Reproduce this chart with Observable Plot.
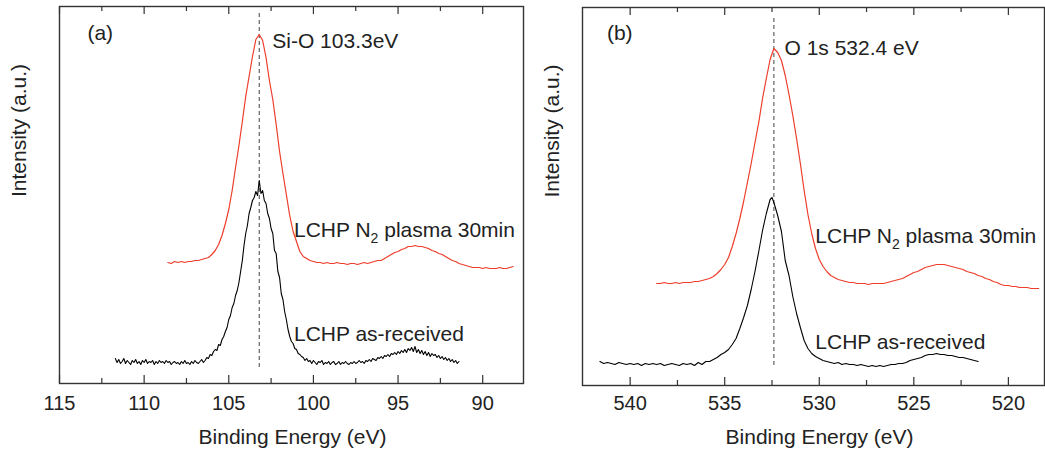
<!DOCTYPE html>
<html>
<head>
<meta charset="utf-8">
<script src="https://cdn.jsdelivr.net/npm/d3@7"></script>
<script src="https://cdn.jsdelivr.net/npm/@observablehq/plot@0.6"></script>
<style>
  html, body { margin: 0; padding: 0; background: #fff; }
  #wrap { position: relative; width: 1045px; height: 453px; overflow: hidden; }
  #wrap svg { position: absolute; top: 0; }
</style>
</head>
<body>
<div id="wrap"></div>
<script>
// ---------- Panel (a): Si 2p region, [binding energy eV, intensity a.u.] ----------
const aAsReceived = [[111.7,25],[111.6,21],[111.5,24],[111.4,20],[111.3,22],[111.2,25],[111.1,20],[111.0,23],[110.9,21],[110.8,19],[110.7,23],[110.6,21],[110.5,24],[110.4,20],[110.3,22],[110.2,19],[110.1,23],[110.0,21],[109.9,24],[109.8,20],[109.7,22],[109.6,21],[109.5,23],[109.4,19],[109.3,22],[109.2,20],[109.1,23],[109.0,21],[108.9,22],[108.8,20],[108.7,23],[108.6,21],[108.5,22],[108.4,19],[108.3,21],[108.2,22],[108.1,20],[108.0,21],[107.9,19],[107.8,22],[107.7,20],[107.6,23],[107.5,20],[107.4,21],[107.3,19],[107.2,22],[107.1,20],[107.0,23],[106.9,21],[106.8,20],[106.7,22],[106.6,24],[106.5,21],[106.4,23],[106.3,26],[106.2,25],[106.1,29],[106.0,28],[105.9,32],[105.8,34],[105.7,33],[105.6,39],[105.5,38],[105.4,44],[105.3,47],[105.2,52],[105.1,56],[105.0,64],[104.9,68],[104.8,76],[104.7,80],[104.6,88],[104.5,93],[104.4,101],[104.3,112],[104.2,123],[104.1,138],[104.0,150],[103.9,158],[103.8,170],[103.7,176],[103.6,183],[103.5,186],[103.4,192],[103.3,188],[103.2,203],[103.1,190],[103.0,193],[102.9,183],[102.8,180],[102.7,170],[102.6,165],[102.5,155],[102.4,150],[102.3,133],[102.2,130],[102.1,112],[102.0,106],[101.9,90],[101.8,84],[101.7,72],[101.6,64],[101.5,54],[101.4,47],[101.3,42],[101.2,40],[101.1,35],[101.0,34],[100.9,30],[100.8,29],[100.7,27],[100.6,26],[100.5,23],[100.4,25],[100.3,22],[100.2,23],[100.1,20],[100.0,23],[99.9,21],[99.8,19],[99.7,22],[99.6,21],[99.5,23],[99.4,19],[99.3,21],[99.2,20],[99.1,22],[99.0,19],[98.9,21],[98.8,22],[98.7,19],[98.6,20],[98.5,22],[98.4,19],[98.3,21],[98.2,20],[98.1,22],[98.0,20],[97.9,19],[97.8,21],[97.7,20],[97.6,22],[97.5,20],[97.4,21],[97.3,23],[97.2,21],[97.1,22],[97.0,20],[96.9,23],[96.8,22],[96.7,24],[96.6,22],[96.5,25],[96.4,24],[96.3,23],[96.2,26],[96.1,25],[96.0,27],[95.9,25],[95.8,28],[95.7,27],[95.6,29],[95.5,27],[95.4,30],[95.3,29],[95.2,31],[95.1,29],[95.0,32],[94.9,30],[94.8,33],[94.7,31],[94.6,34],[94.5,31],[94.4,35],[94.3,33],[94.2,36],[94.1,32],[94.0,37],[93.9,31],[93.8,34],[93.7,30],[93.6,33],[93.5,29],[93.4,32],[93.3,28],[93.2,31],[93.1,27],[93.0,30],[92.9,28],[92.8,29],[92.7,26],[92.6,28],[92.5,25],[92.4,27],[92.3,24],[92.2,26],[92.1,23],[92.0,25],[91.9,22],[91.8,24],[91.7,21],[91.6,23],[91.5,20],[91.4,22]];

const aPlasma = [[108.6,121],[108.4,120],[108.2,122],[108.0,121],[107.8,122],[107.6,121],[107.4,122],[107.2,122],[107.0,123],[106.8,123],[106.6,124],[106.4,125],[106.2,126],[106.0,129],[105.8,133],[105.6,139],[105.4,148],[105.2,160],[105.0,174],[104.8,193],[104.6,216],[104.4,238],[104.2,262],[104.0,287],[103.8,307],[103.6,327],[103.4,344],[103.2,349],[103.0,343],[102.8,326],[102.6,303],[102.4,284],[102.2,259],[102.0,232],[101.8,210],[101.6,189],[101.4,168],[101.2,152],[101.0,142],[100.8,132],[100.6,127],[100.4,125],[100.2,123],[100.0,122],[99.8,121],[99.6,121],[99.4,120],[99.2,121],[99.0,120],[98.8,120],[98.6,121],[98.4,120],[98.2,120],[98.0,119],[97.8,120],[97.6,120],[97.4,119],[97.2,120],[97.0,121],[96.8,120],[96.6,121],[96.4,122],[96.2,123],[96.0,123],[95.8,125],[95.6,127],[95.4,129],[95.2,131],[95.0,132],[94.8,134],[94.6,135],[94.4,137],[94.2,137],[94.0,138],[93.8,137],[93.6,137],[93.4,136],[93.2,135],[93.0,133],[92.8,132],[92.6,130],[92.4,129],[92.2,127],[92.0,125],[91.8,123],[91.6,122],[91.4,120],[91.2,119],[91.0,118],[90.8,117],[90.6,116],[90.4,116],[90.2,116],[90.0,115],[89.8,116],[89.6,115],[89.4,115],[89.2,115],[89.0,116],[88.8,115],[88.6,115],[88.4,116],[88.2,117]];

const aMajorTicks = [115, 110, 105, 100, 95, 90];
const aMinorTicks = [112.5, 107.5, 102.5, 97.5, 92.5];
const aPeakEnergy = 103.2;

// ---------- Panel (b): O 1s region ----------
const bAsReceived = [[541.6,24],[541.4,22],[541.2,23],[541.0,22],[540.8,21],[540.6,23],[540.4,22],[540.2,21],[540.0,22],[539.8,21],[539.6,22],[539.4,20],[539.2,22],[539.0,21],[538.8,22],[538.6,21],[538.4,22],[538.2,20],[538.0,21],[537.8,22],[537.6,21],[537.4,20],[537.2,22],[537.0,21],[536.8,22],[536.6,20],[536.4,23],[536.2,21],[536.0,24],[535.8,24],[535.6,26],[535.4,28],[535.2,31],[535.0,33],[534.8,36],[534.6,41],[534.4,47],[534.2,57],[534.0,68],[533.8,80],[533.6,96],[533.4,114],[533.2,134],[533.0,155],[532.8,172],[532.6,186],[532.5,188],[532.4,183],[532.2,170],[532.0,154],[531.8,125],[531.6,110],[531.4,89],[531.2,72],[531.0,58],[530.8,45],[530.6,37],[530.4,32],[530.2,29],[530.0,27],[529.8,25],[529.6,24],[529.4,23],[529.2,22],[529.0,23],[528.8,21],[528.6,22],[528.4,21],[528.2,21],[528.0,20],[527.8,21],[527.6,20],[527.4,19],[527.2,20],[527.0,19],[526.8,20],[526.6,19],[526.4,20],[526.2,21],[526.0,21],[525.8,22],[525.6,22],[525.4,23],[525.2,25],[525.0,26],[524.8,27],[524.6,28],[524.4,30],[524.2,31],[524.0,31],[523.8,32],[523.6,31],[523.4,31],[523.2,30],[523.0,30],[522.8,29],[522.6,28],[522.4,28],[522.2,27],[522.0,26],[521.8,25],[521.6,24]];

const bPlasma = [[538.6,102],[538.4,102],[538.2,103],[538.0,102],[537.8,102],[537.6,103],[537.4,102],[537.2,103],[537.0,103],[536.8,103],[536.6,104],[536.4,104],[536.2,105],[536.0,106],[535.8,107],[535.6,109],[535.4,112],[535.2,116],[535.0,121],[534.8,128],[534.6,139],[534.4,152],[534.2,167],[534.0,184],[533.8,203],[533.6,222],[533.4,243],[533.2,263],[533.0,287],[532.8,307],[532.6,326],[532.4,337],[532.2,333],[532.0,325],[531.8,310],[531.6,291],[531.4,270],[531.2,247],[531.0,222],[530.8,195],[530.6,171],[530.4,152],[530.2,137],[530.0,126],[529.8,119],[529.6,114],[529.4,110],[529.2,108],[529.0,106],[528.8,105],[528.6,104],[528.4,103],[528.2,103],[528.0,102],[527.8,102],[527.6,102],[527.4,101],[527.2,102],[527.0,102],[526.8,102],[526.6,102],[526.4,103],[526.2,104],[526.0,105],[525.8,106],[525.6,107],[525.4,109],[525.2,111],[525.0,113],[524.8,114],[524.6,116],[524.4,118],[524.2,119],[524.0,120],[523.8,121],[523.6,121],[523.4,121],[523.2,120],[523.0,119],[522.8,118],[522.6,117],[522.4,116],[522.2,114],[522.0,113],[521.8,112],[521.6,110],[521.4,109],[521.2,107],[521.0,106],[520.8,104],[520.6,103],[520.4,101],[520.2,100],[520.0,100],[519.8,99],[519.6,99],[519.4,98],[519.2,98],[519.0,98],[518.8,97],[518.6,97],[518.4,97]];

const bMajorTicks = [540, 535, 530, 525, 520];
const bMinorTicks = [537.5, 532.5, 527.5, 522.5];
const bPeakEnergy = 532.4;

const xTitle = "Binding Energy (eV)";
const yTitle = "Intensity (a.u.)";
const plasmaLabel = "LCHP N\u2082 plasma 30min";
const asReceivedLabel = "LCHP as-received";

const RED = "#ee3d2a";
const INK = "#222";
const FONT = "'Liberation Sans', Arial, sans-serif";

function panel(o) {
  const ph = o.height - o.marginTop - o.marginBottom;
  const svg = Plot.plot({
    width: o.width, height: o.height,
    marginLeft: o.marginLeft, marginRight: o.marginRight,
    marginTop: o.marginTop, marginBottom: o.marginBottom,
    style: {fontFamily: FONT, fontSize: "20px", color: INK, background: "transparent", overflow: "visible"},
    x: {domain: o.xDomain},
    y: {domain: [0, ph], axis: null},
    marks: [
      Plot.ruleX([o.peak], {y1: o.dashY[0], y2: o.dashY[1], stroke: "#555", strokeWidth: 1.1, strokeDasharray: "4,3"}),
      Plot.line(o.black, {x: d => d[0], y: d => d[1], stroke: "#000", strokeWidth: 1.1}),
      Plot.line(o.red, {x: d => d[0], y: d => d[1], stroke: RED, strokeWidth: 1.2}),
      Plot.ruleX(o.major, {insetTop: ph - 8, stroke: "#333", strokeWidth: 1.2}),
      Plot.ruleX(o.major, {insetBottom: ph - 8, stroke: "#333", strokeWidth: 1.2}),
      Plot.ruleX(o.minor, {insetTop: ph - 5, stroke: "#333", strokeWidth: 1.2}),
      Plot.ruleX(o.minor, {insetBottom: ph - 5, stroke: "#333", strokeWidth: 1.2}),
      Plot.frame({stroke: "#333", strokeWidth: 1.4}),
      Plot.axisX({ticks: o.major, tickSize: 0, tickPadding: o.tickPad, fontSize: 20, label: null, tickFormat: d => String(d)}),
      Plot.text([xTitle], {frameAnchor: "bottom", dx: o.xTitleDx, dy: o.xTitleDy, lineAnchor: "middle", fontSize: 21, fill: INK}),
      Plot.text([yTitle], {frameAnchor: "left", rotate: -90, dx: o.yTitleDx, dy: o.yTitleDy, lineAnchor: "middle", fontSize: 21, fill: INK}),
      ...o.labels.map(l => Plot.text([l.t], {x: l.x, y: l.y, textAnchor: "start", lineAnchor: "middle", fontSize: 21, fill: INK}))
    ]
  });
  // subscript "2" in N2 as real text
  svg.querySelectorAll("text").forEach(t => {
    if (t.textContent === plasmaLabel) {
      t.textContent = "";
      const ns = "http://www.w3.org/2000/svg";
      const a = document.createElementNS(ns, "tspan"); a.textContent = "LCHP N";
      const b = document.createElementNS(ns, "tspan"); b.textContent = "2";
      b.setAttribute("font-size", "14"); b.setAttribute("dy", "6");
      const c = document.createElementNS(ns, "tspan"); c.textContent = " plasma 30min";
      c.setAttribute("dy", "-6");
      t.append(a, b, c);
    }
  });
  svg.style.left = o.left + "px";
  return svg;
}

const wrap = document.getElementById("wrap");
wrap.append(panel({
  left: 0, width: 525, height: 453,
  marginLeft: 59, marginRight: 2, marginTop: 6, marginBottom: 70,
  xDomain: [115, 87.59],
  black: aAsReceived, red: aPlasma, major: aMajorTicks, minor: aMinorTicks,
  peak: aPeakEnergy, dashY: [16, 370],
  tickPad: 12, xTitleDx: 1, xTitleDy: 54, yTitleDx: -40.7, yTitleDy: 2,
  labels: [
    {t: "(a)", x: 113.35, y: 350},
    {t: "Si-O 103.3eV", x: 102.43, y: 342},
    {t: plasmaLabel, x: 101.15, y: 153},
    {t: asReceivedLabel, x: 101.15, y: 49}
  ]
}));
wrap.append(panel({
  left: 525, width: 520, height: 453,
  marginLeft: 57, marginRight: 1, marginTop: 7, marginBottom: 68,
  xDomain: [542.52, 518.09],
  black: bAsReceived, red: bPlasma, major: bMajorTicks, minor: bMinorTicks,
  peak: bPeakEnergy, dashY: [20, 370],
  tickPad: 10, xTitleDx: 6, xTitleDy: 52, yTitleDx: -30.7, yTitleDy: 1,
  labels: [
    {t: "(b)", x: 541.23, y: 352},
    {t: "O 1s 532.4 eV", x: 531.84, y: 337},
    {t: plasmaLabel, x: 530.21, y: 149},
    {t: asReceivedLabel, x: 530.21, y: 43}
  ]
}));
</script>
</body>
</html>
